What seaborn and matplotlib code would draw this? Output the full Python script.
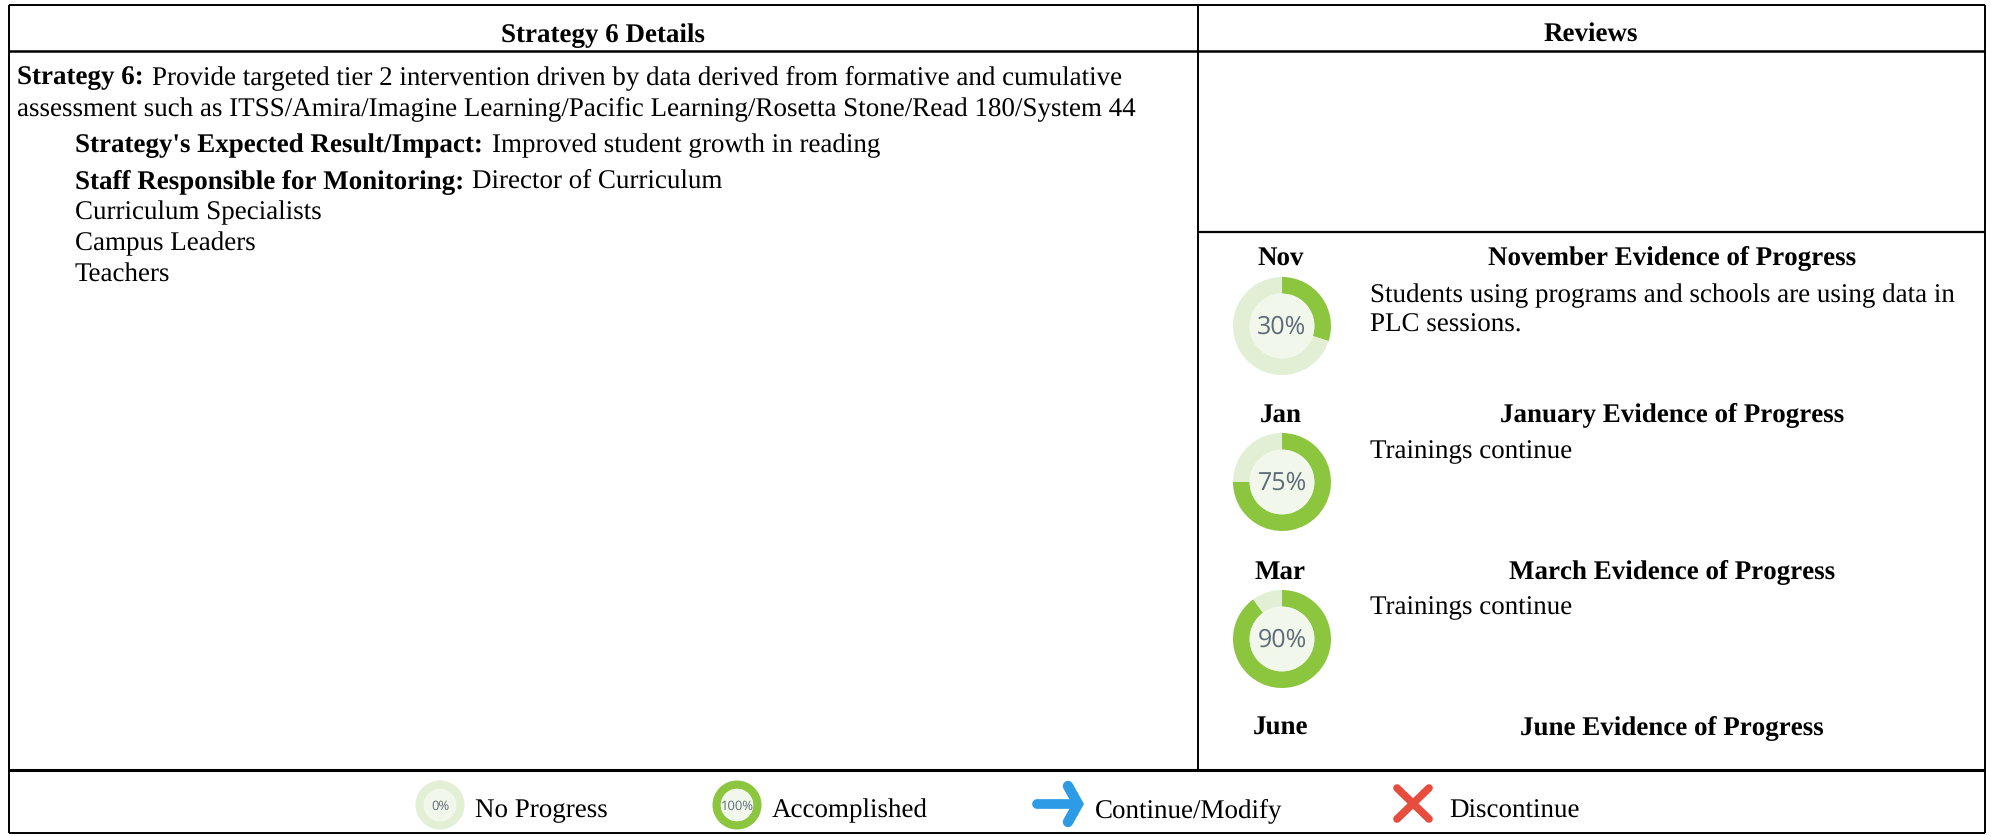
import matplotlib.pyplot as plt
import seaborn as sns

W, H = 1991, 837

# chart data
months = ['Nov', 'Jan', 'Mar', 'June']
month_titles = ['November Evidence of Progress', 'January Evidence of Progress',
                'March Evidence of Progress', 'June Evidence of Progress']
progress = [30, 75, 90]
legend_progress = [0, 100]
legend_labels = ['No Progress', 'Accomplished', 'Continue/Modify', 'Discontinue']
headers = ['Strategy 6 Details', 'Reviews']

sns.set_theme(style='white')
plt.rcParams['font.family'] = ['Liberation Serif', 'DejaVu Serif']
plt.rcParams['text.hinting'] = 'no_hinting'
plt.rcParams['text.hinting_factor'] = 1

DARK = '#8cc63f'
LIGHT = '#e2efd5'
INNER = '#f1f7ea'
FS = 19.4

fig = plt.figure(figsize=(W / 100, H / 100), dpi=100)
ax = fig.add_axes([0, 0, 1, 1])
ax.set_xlim(0, W)
ax.set_ylim(0, H)
ax.set_aspect('equal')
ax.axis('off')


def Y(py):
    return H - py


def hline(x0, x1, py, lw=1.6):
    ax.plot([x0, x1], [Y(py), Y(py)], color='black', lw=lw, solid_capstyle='butt')


def vline(px, y0, y1, lw=1.6):
    ax.plot([px, px], [Y(y0), Y(y1)], color='black', lw=lw, solid_capstyle='butt')


def put(x, y, s, bold=False, ha='left', size=FS):
    ax.text(x, Y(y), s, ha=ha, va='baseline', fontsize=size,
            fontweight='bold' if bold else 'normal', color='black')


def donut(cx, cy, pct, r, size):
    ax.pie([pct, 100 - pct], colors=[DARK, LIGHT], startangle=90, counterclock=False,
           center=(cx, Y(cy)), radius=r, frame=True,
           wedgeprops=dict(width=r * 0.34, linewidth=0))
    ax.pie([1], colors=[INNER], center=(cx, Y(cy)), radius=r * 0.66, frame=True,
           wedgeprops=dict(linewidth=0))
    ax.text(cx, Y(cy), f'{pct}%', ha='center', va='center', fontsize=size,
            family='Open Sans', color='#5d6b78')


# table lines
L, R, T, B = 9, 1985, 6, 834
hline(L, R, T, 1.4)
hline(L, R, 51.5, 1.8)
hline(L, R, 771, 2.2)
hline(L, R, B, 1.4)
vline(L, T, B, 1.4)
vline(R, T, B, 1.4)
vline(1198, T, 771, 1.4)
hline(1198, R, 232.5, 1.6)

# headers
put(603, 42, headers[0], bold=True, ha='center')
put(1591, 42, headers[1], bold=True, ha='center')

# left cell
put(17, 84, 'Strategy 6:', bold=True)
put(152, 84, 'Provide targeted tier 2 intervention driven by data derived from formative and cumulative')
put(17, 115.5, 'assessment such as ITSS/Amira/Imagine Learning/Pacific Learning/Rosetta Stone/Read 180/System 44')
put(75, 152, "Strategy's Expected Result/Impact:", bold=True)
put(492, 152, 'Improved student growth in reading')
put(75, 188, 'Staff Responsible for Monitoring:', bold=True)
put(472, 188, 'Director of Curriculum')
put(75, 219.5, 'Curriculum Specialists')
put(75, 250.5, 'Campus Leaders')
put(75, 281.5, 'Teachers')

# review rows
month_y = [264.5, 421.5, 578.5, 734.5]
for m, t, y in zip(months, month_titles, month_y):
    put(1280.5, y, m, bold=True, ha='center')
    put(1672, y, t, bold=True, ha='center')

for p, y in zip(progress, [327, 483, 640]):
    donut(1282, y, p, 49, 18)

put(1370, 302, 'Students using programs and schools are using data in')
put(1370, 332, 'PLC sessions.')
put(1370, 458, 'Trainings continue')
put(1370, 614.5, 'Trainings continue')

# legend
for p, x in zip(legend_progress, [440, 737]):
    donut(x, 806, p, 24.5, 9)
for s, x in zip(legend_labels, [475, 772, 1095, 1449]):
    put(x, 817.5, s)

# arrow and cross
blue = '#2d9be5'
ax.plot([1037, 1075], [Y(805), Y(805)], color=blue, lw=7, solid_capstyle='round')
ax.plot([1068, 1078, 1068], [Y(787), Y(805), Y(823)], color=blue, lw=7.5,
        solid_capstyle='round', solid_joinstyle='miter')
red = '#e74c3c'
ax.plot([1397, 1429], [Y(789), Y(820)], color=red, lw=5.5, solid_capstyle='round')
ax.plot([1397, 1429], [Y(820), Y(789)], color=red, lw=5.5, solid_capstyle='round')

ax.set_xlim(0, W)
ax.set_ylim(0, H)
fig.savefig('out.png', dpi=100, facecolor='white')
